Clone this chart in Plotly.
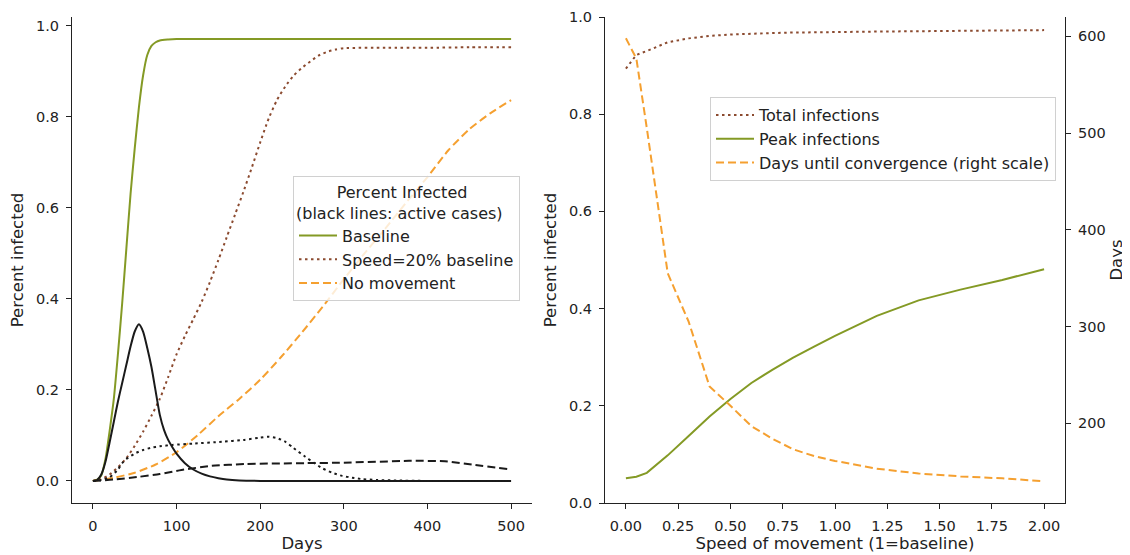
import plotly.graph_objects as go

# left panel: share infected over time
base_days = [0, 5, 10, 15, 20, 25, 30, 35, 40, 45, 50, 55, 60, 65, 70, 75, 80, 90, 100, 150, 200, 300, 400, 500]
base_total = [0, 0.003, 0.012, 0.048, 0.11, 0.18, 0.28, 0.39, 0.51, 0.63, 0.73, 0.82, 0.89, 0.935, 0.955, 0.963,
              0.967, 0.969, 0.97, 0.97, 0.97, 0.97, 0.97, 0.97]

active_days = [0, 5, 10, 15, 20, 25, 30, 35, 40, 45, 50, 55, 60, 65, 70, 75, 80, 85, 90, 95, 100, 110, 120, 130,
               140, 150, 160, 175, 200, 300, 400, 500]
base_active = [0, 0.002, 0.014, 0.042, 0.085, 0.13, 0.175, 0.215, 0.255, 0.295, 0.328, 0.344, 0.328, 0.292, 0.25,
               0.197, 0.145, 0.112, 0.09, 0.074, 0.06, 0.039, 0.025, 0.016, 0.01, 0.006, 0.003, 0.001, 0, 0, 0, 0]

slow_days = [0, 10, 20, 30, 40, 50, 60, 70, 80, 90, 100, 110, 120, 130, 140, 150, 160, 170, 180, 190, 200, 210,
             220, 230, 240, 250, 260, 270, 280, 290, 300, 350, 400, 450, 500]
slow_total = [0, 0.004, 0.014, 0.03, 0.05, 0.077, 0.108, 0.143, 0.18, 0.228, 0.278, 0.318, 0.355, 0.393, 0.437,
              0.485, 0.535, 0.585, 0.635, 0.688, 0.743, 0.795, 0.836, 0.866, 0.89, 0.907, 0.921, 0.934, 0.942,
              0.947, 0.95, 0.951, 0.951, 0.952, 0.952]

slow_active_days = [0, 10, 20, 30, 35, 40, 50, 60, 70, 80, 95, 120, 154, 180, 200, 210, 220, 230, 240, 254, 264,
                    274, 286, 298, 310, 322, 340, 360, 400, 500]
slow_active = [0, 0.002, 0.008, 0.025, 0.039, 0.048, 0.06, 0.068, 0.073, 0.076, 0.079, 0.082, 0.086, 0.09, 0.095,
               0.097, 0.094, 0.086, 0.072, 0.053, 0.04, 0.028, 0.018, 0.011, 0.007, 0.004, 0.002, 0.001, 0, 0]

still_days = [0, 25, 50, 75, 100, 125, 150, 175, 200, 225, 250, 275, 300, 325, 350, 375, 400, 425, 450, 475, 500]
still_total = [0, 0.007, 0.018, 0.036, 0.063, 0.1, 0.142, 0.18, 0.222, 0.272, 0.326, 0.383, 0.443, 0.5, 0.555,
               0.612, 0.667, 0.726, 0.772, 0.807, 0.836]

still_active_days = [0, 25, 55, 80, 106, 142, 182, 254, 300, 378, 421, 457, 497]
still_active = [0, 0.003, 0.009, 0.015, 0.024, 0.033, 0.037, 0.039, 0.04, 0.044, 0.043, 0.035, 0.026]

# right panel: effect of movement speed
speed = [0, 0.05, 0.1, 0.2, 0.3, 0.4, 0.5, 0.6, 0.7, 0.8, 0.9, 1.0, 1.2, 1.4, 1.6, 1.8, 2.0]
total_inf = [0.894, 0.922, 0.930, 0.948, 0.956, 0.961, 0.964, 0.966, 0.967, 0.968, 0.969, 0.969, 0.970, 0.971,
             0.971, 0.972, 0.973]
peak_inf = [0.051, 0.054, 0.062, 0.098, 0.138, 0.178, 0.214, 0.247, 0.274, 0.299, 0.322, 0.344, 0.385, 0.417,
            0.439, 0.459, 0.481]
days_conv = [598, 577, 505, 355, 305, 238, 218, 197, 184, 173, 166, 161, 153, 148, 145, 143, 140]

GREEN = "#849a25"
BROWN = "#8b4a2f"
ORANGE = "#f5a030"
DOT = "2.5px,3.5px"
DASH = "8px,4px"

fig = go.Figure()

# left panel
fig.add_trace(go.Scatter(x=base_days, y=base_total, name="Baseline", mode="lines",
                         line=dict(color=GREEN, width=2, shape="spline", smoothing=0.6), legend="legend"))
fig.add_trace(go.Scatter(x=slow_days, y=slow_total, name="Speed=20% baseline", mode="lines",
                         line=dict(color=BROWN, width=2, dash=DOT, shape="spline", smoothing=0.6), legend="legend"))
fig.add_trace(go.Scatter(x=still_days, y=still_total, name="No movement", mode="lines",
                         line=dict(color=ORANGE, width=2, dash=DASH, shape="spline", smoothing=0.6), legend="legend"))
fig.add_trace(go.Scatter(x=active_days, y=base_active, mode="lines", showlegend=False,
                         line=dict(color="#1a1a1a", width=2, shape="spline", smoothing=0.6)))
fig.add_trace(go.Scatter(x=slow_active_days, y=slow_active, mode="lines", showlegend=False,
                         line=dict(color="#1a1a1a", width=2, dash=DOT, shape="spline", smoothing=0.6)))
fig.add_trace(go.Scatter(x=still_active_days, y=still_active, mode="lines", showlegend=False,
                         line=dict(color="#1a1a1a", width=2, dash=DASH, shape="spline", smoothing=0.6)))

# right panel
fig.add_trace(go.Scatter(x=speed, y=total_inf, name="Total infections", mode="lines",
                         line=dict(color=BROWN, width=2, dash=DOT), xaxis="x2", yaxis="y2", legend="legend2"))
fig.add_trace(go.Scatter(x=speed, y=peak_inf, name="Peak infections", mode="lines",
                         line=dict(color=GREEN, width=2), xaxis="x2", yaxis="y2", legend="legend2"))
fig.add_trace(go.Scatter(x=speed, y=days_conv, name="Days until convergence (right scale)", mode="lines",
                         line=dict(color=ORANGE, width=2, dash=DASH), xaxis="x2", yaxis="y3", legend="legend2"))

W, H = 1130, 555
OFF = 8  # the page body adds 8px around the figure
y_dom = [1 - (503 - OFF) / H, 1 - (17 - OFF) / H]
axis_common = dict(showline=True, linecolor="#222", linewidth=1.2, ticks="outside", ticklen=5,
                   ticklabelstandoff=4, tickcolor="#222", showgrid=False, zeroline=False, automargin=False,
                   tickfont=dict(size=14.5, color="#222"), title_font=dict(size=16.5, color="#222"))

fig.update_layout(
    width=W, height=H,
    margin=dict(l=0, r=0, t=0, b=0),
    paper_bgcolor="white", plot_bgcolor="white",
    font=dict(family="DejaVu Sans", size=14, color="#222"),
    xaxis=dict(domain=[(72 - OFF) / W, (532 - OFF) / W], range=[-25, 525], tickvals=[0, 100, 200, 300, 400, 500],
               title=dict(text="Days", standoff=4), anchor="y", **axis_common),
    yaxis=dict(domain=y_dom, range=[-0.0485, 1.0185], tickvals=[0, 0.2, 0.4, 0.6, 0.8, 1.0],
               tickformat=".1f", title=dict(text="Percent infected", standoff=12), anchor="x", **axis_common),
    xaxis2=dict(domain=[(605 - OFF) / W, (1065 - OFF) / W], range=[-0.1, 2.1],
                tickvals=[0, 0.25, 0.5, 0.75, 1, 1.25, 1.5, 1.75, 2],
                tickformat=".2f", title=dict(text="Speed of movement (1=baseline)", standoff=4), anchor="y2",
                **axis_common),
    yaxis2=dict(domain=y_dom, range=[0, 1], tickvals=[0, 0.2, 0.4, 0.6, 0.8, 1.0], tickformat=".1f",
                title=dict(text="Percent infected", standoff=8), anchor="x2", **axis_common),
    yaxis3=dict(range=[117.5, 620], tickvals=[200, 300, 400, 500, 600], overlaying="y2", side="right",
                anchor="x2", title=dict(text="Days", standoff=5), **axis_common),
    legend=dict(x=(293 - OFF) / W, y=1 - (176 - OFF) / H, xanchor="left", yanchor="top",
                title=dict(text="\u00a0" * 8 + "Percent Infected<br>(black lines: active cases)",
                           font=dict(size=16)),
                bgcolor="rgba(255,255,255,0.8)", bordercolor="#d0d0d0", borderwidth=1,
                font=dict(size=16), itemwidth=38, tracegroupgap=0),
    legend2=dict(x=(710 - OFF) / W, y=1 - (97 - OFF) / H, xanchor="left", yanchor="top",
                 bgcolor="rgba(255,255,255,0.8)", bordercolor="#d0d0d0", borderwidth=1,
                 font=dict(size=16), itemwidth=38, tracegroupgap=0),
)

fig.write_html("out.html")
